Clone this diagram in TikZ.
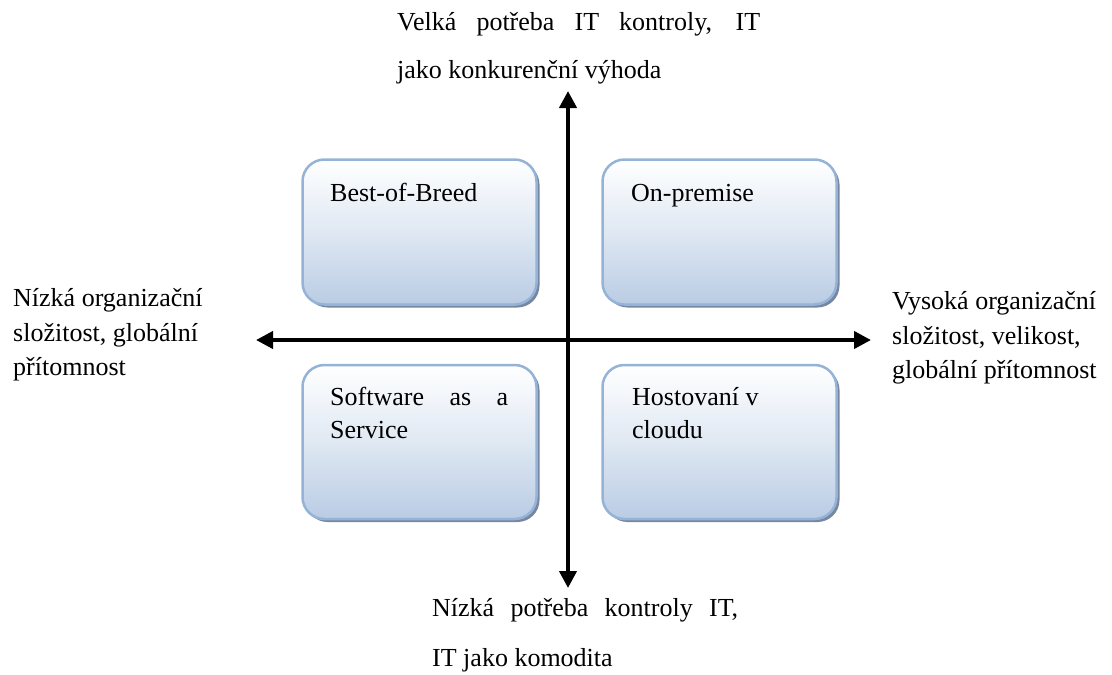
\documentclass[tikz,border=0pt]{standalone}
\usepackage{fontspec}
\setmainfont{Liberation Serif}
\usetikzlibrary{arrows.meta,shadows}
\definecolor{boxborder}{RGB}{149,179,215}
\definecolor{boxbottom}{RGB}{185,204,228}
\definecolor{shadowc}{RGB}{120,135,160}
\tikzset{
  quad/.style={draw=boxborder, line width=2.5pt, rounded corners=22pt,
    top color=white, bottom color=boxbottom, middle color=white!55!boxbottom,
    minimum width=234pt, inner sep=0pt,
    general shadow={shadow xshift=3pt, shadow yshift=-3pt, fill=shadowc}},
  txt/.style={anchor=base west, inner sep=0pt, font=\fontsize{26}{31}\selectfont},
  axis/.style={line width=4pt, {Triangle[length=17pt,width=17pt]}-{Triangle[length=17pt,width=17pt]}}
}
\begin{document}
\begin{tikzpicture}[x=1pt,y=-1pt]
\useasboundingbox (0,0) rectangle (1112,675);
% boxes
\node[quad, minimum height=145pt] (bob) at (419.5,232) {};
\node[quad, minimum height=145pt] (onp) at (719.5,232) {};
\node[quad, minimum height=154pt] (saas) at (419.5,442) {};
\node[quad, minimum height=154pt] (host) at (719.5,442) {};
% box texts
\node[txt] (bobt) at (330,201) {Best-of-Breed};
\node[txt] (onpt) at (631,201) {On-premise};
\node[txt] (saas1) at (330,405) {\makebox[178pt][s]{Software as a}};
\node[txt] (saas2) at (330,438) {Service};
\node[txt] (host1) at (632,405) {Hostovaní v};
\node[txt] (host2) at (632,438) {cloudu};
% axes
\coordinate (W) at (256,340);
\coordinate (E) at (871,340);
\coordinate (N) at (568,91);
\coordinate (S) at (568,588);
\draw[axis] (W) -- (E);
\draw[axis] (N) -- (S);
% axis labels
\node[txt] (top1) at (397,30) {\makebox[363pt][s]{Velká potřeba IT kontroly, IT}};
\node[txt] (top2) at (397,78) {jako konkurenční výhoda};
\node[txt] (bot1) at (432,616) {\makebox[306pt][s]{Nízká potřeba kontroly IT,}};
\node[txt] (bot2) at (432,666) {IT jako komodita};
\node[txt] (lef1) at (13,306) {Nízká organizační};
\node[txt] (lef2) at (13,341) {složitost, globální};
\node[txt] (lef3) at (13,375) {přítomnost};
\node[txt] (rig1) at (892,309) {Vysoká organizační};
\node[txt] (rig2) at (892,344) {složitost, velikost,};
\node[txt] (rig3) at (892,378) {globální přítomnost};
\end{tikzpicture}
\end{document}
